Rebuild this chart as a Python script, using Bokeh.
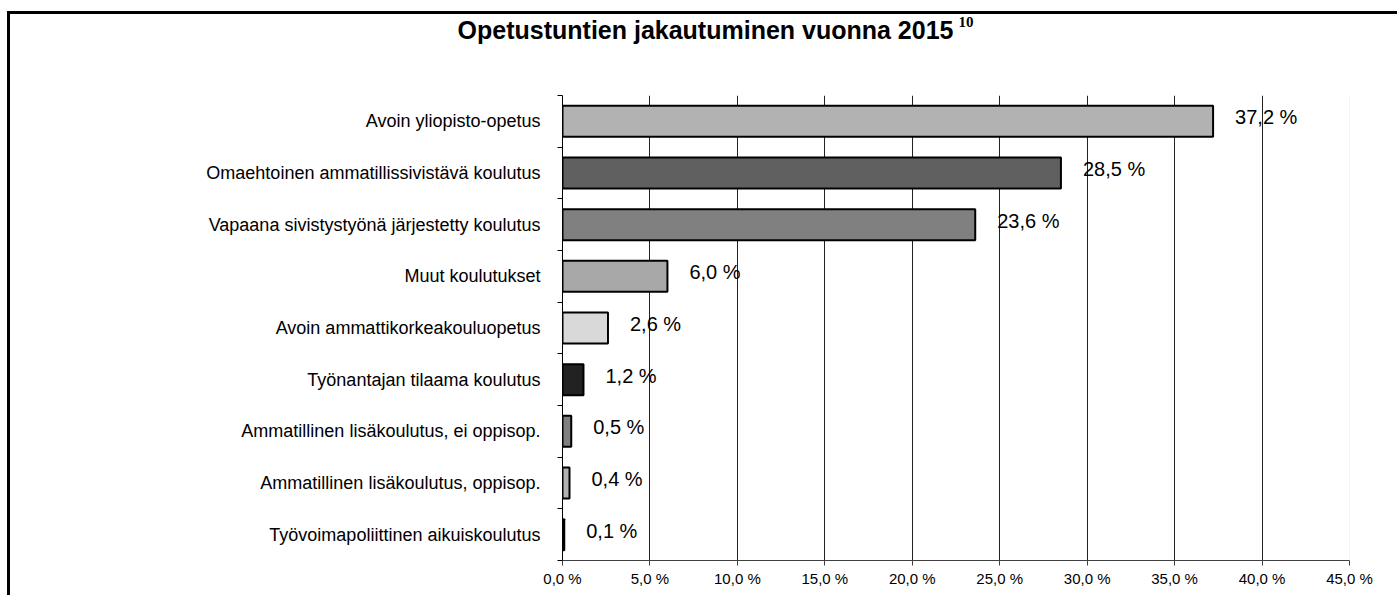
from bokeh.plotting import figure
from bokeh.models import FixedTicker, ColumnDataSource, Span
from bokeh.embed import file_html
from bokeh.resources import INLINE
from bokeh.core.properties import value

# ---- data ----
categories = [
    "Avoin yliopisto-opetus",
    "Omaehtoinen ammatillissivistävä koulutus",
    "Vapaana sivistystyönä järjestetty koulutus",
    "Muut koulutukset",
    "Avoin ammattikorkeakouluopetus",
    "Työnantajan tilaama koulutus",
    "Ammatillinen lisäkoulutus, ei oppisop.",
    "Ammatillinen lisäkoulutus, oppisop.",
    "Työvoimapoliittinen aikuiskoulutus",
]
values = [37.2, 28.5, 23.6, 6.0, 2.6, 1.2, 0.5, 0.4, 0.1]
colors = ["#b2b2b2", "#606060", "#808080", "#a8a8a8", "#d9d9d9",
          "#222222", "#808080", "#b2b2b2", "#000000"]
x_ticks = [0, 5, 10, 15, 20, 25, 30, 35, 40, 45]
x_tick_labels = ["0,0 %", "5,0 %", "10,0 %", "15,0 %", "20,0 %",
                 "25,0 %", "30,0 %", "35,0 %", "40,0 %", "45,0 %"]
title_text = "Opetustuntien jakautuminen vuonna 2015"
title_sup = "10"

FONT = "Liberation Sans"

n = len(categories)
ypos = [n - 0.5 - i for i in range(n)]
value_labels = [("%.1f %%" % v).replace(".", ",") for v in values]

src = ColumnDataSource(dict(y=ypos, v=values, color=colors, lbl=value_labels, cat=categories))

p = figure(width=1397, height=595, x_range=(0, 45), y_range=(0, n),
           output_backend="svg", toolbar_location=None,
           min_border_left=562, min_border_right=48,
           min_border_top=95, min_border_bottom=35)
p.border_fill_color = None
p.background_fill_color = None
p.outline_line_color = None
# outer chart frame (left and top edges)
p.styles = {
    "background-color": "white",
    "background-image": "linear-gradient(#000,#000), linear-gradient(#000,#000)",
    "background-repeat": "no-repeat",
    "background-position": "7px 11px, 7px 11px",
    "background-size": "3px 100%, 100% 3px",
}

# title and its superscript, drawn above the plot area
p.text(x=[-6.0], y=[10.26], text=[title_text], level="overlay",
       text_align="left", text_baseline="middle",
       text_font=value(FONT), text_font_style="bold",
       text_font_size="25px", text_color="black")
p.text(x=[22.64], y=[10.43], text=[title_sup], level="overlay",
       text_align="left", text_baseline="middle",
       text_font=value("Liberation Serif"), text_font_style="bold",
       text_font_size="15px", text_color="black")

# grid
p.ygrid.grid_line_color = None
p.xgrid.ticker = FixedTicker(ticks=x_ticks[1:-1])
p.xgrid.grid_line_color = "#222222"
p.xgrid.grid_line_width = 1
p.add_layout(Span(location=x_ticks[-1], dimension="height", line_color="#e8e8e8", line_width=1))

# bars
p.hbar(y="y", left=0, right="v", height=0.6, fill_color="color",
       line_color="black", line_width=2, source=src)

# value labels
p.text(x="v", y="y", text="lbl", x_offset=22, y_offset=-4,
       text_align="left", text_baseline="middle",
       text_font=value(FONT), text_font_size="20px", text_color="black", source=src)

# x axis
xa = p.xaxis[0]
xa.ticker = FixedTicker(ticks=x_ticks, minor_ticks=[])
xa.major_label_overrides = {t: l for t, l in zip(x_ticks, x_tick_labels)}
xa.major_tick_out = 5
xa.major_tick_in = 0
xa.major_tick_line_color = "#404040"
xa.axis_line_color = "#404040"
xa.major_label_text_font = FONT
xa.major_label_text_font_size = "15px"
xa.major_label_text_color = "black"
xa.major_label_standoff = 4

# y axis
ya = p.yaxis[0]
ya.ticker = FixedTicker(ticks=ypos, minor_ticks=list(range(n + 1)))
ya.major_label_overrides = {float(y): c for y, c in zip(ypos, categories)}
ya.major_tick_in = 0
ya.major_tick_out = 0
ya.major_tick_line_color = None
ya.minor_tick_in = 0
ya.minor_tick_out = 5
ya.minor_tick_line_color = "black"
ya.axis_line_color = "black"
ya.major_label_text_font = FONT
ya.major_label_text_font_size = "18px"
ya.major_label_text_color = "black"
ya.major_label_standoff = 17

open("out.html", "w").write(file_html(p, INLINE))
